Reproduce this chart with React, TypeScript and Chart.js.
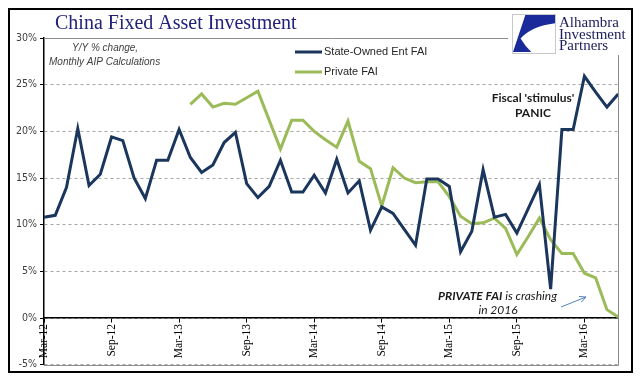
import React, { useEffect, useRef } from 'react';
import { Chart, registerables } from 'chart.js';

Chart.register(...registerables);

const months = [
  'Mar-12', 'Apr-12', 'May-12', 'Jun-12', 'Jul-12', 'Aug-12', 'Sep-12', 'Oct-12', 'Nov-12', 'Dec-12',
  'Jan-13', 'Feb-13', 'Mar-13', 'Apr-13', 'May-13', 'Jun-13', 'Jul-13', 'Aug-13', 'Sep-13', 'Oct-13', 'Nov-13', 'Dec-13',
  'Jan-14', 'Feb-14', 'Mar-14', 'Apr-14', 'May-14', 'Jun-14', 'Jul-14', 'Aug-14', 'Sep-14', 'Oct-14', 'Nov-14', 'Dec-14',
  'Jan-15', 'Feb-15', 'Mar-15', 'Apr-15', 'May-15', 'Jun-15', 'Jul-15', 'Aug-15', 'Sep-15', 'Oct-15', 'Nov-15', 'Dec-15',
  'Jan-16', 'Feb-16', 'Mar-16', 'Apr-16', 'May-16', 'Jun-16',
];

const shownTickLabels = ['Mar-12', 'Sep-12', 'Mar-13', 'Sep-13', 'Mar-14', 'Sep-14', 'Mar-15', 'Sep-15', 'Mar-16'];

const stateOwnedFAI = [
  10.8, 11.0, 14.0, 20.3, 14.2, 15.4, 19.4, 19.0, 15.0, 12.8,
  16.9, 16.9, 20.2, 17.2, 15.6, 16.4, 18.8, 19.9, 14.4, 12.9,
  14.1, 16.9, 13.5, 13.5, 15.3, 13.4, 17.0, 13.4, 14.7, 9.4,
  11.9, 11.2, 9.5, 7.8, 14.9, 14.9, 14.1, 7.1, 9.3, 15.9,
  10.8, 11.1, 9.1, 11.7, 14.3, 3.1, 20.2, 20.2, 25.9, 24.2,
  22.6, 24.0,
];

const privateFAI = [
  null, null, null, null, null, null, null, null, null, null, null, null, null,
  22.9, 24.0, 22.6, 23.0, 22.9, 23.6, 24.3, 21.2, 18.1, 21.2,
  21.2, 20.0, 19.1, 18.3, 21.1, 16.8, 16.0, 12.0, 16.1, 15.0,
  14.5, 14.6, 14.6, 13.0, 10.9, 10.1, 10.2, 10.7, 9.6, 6.8,
  8.7, 10.7, 8.4, 6.9, 6.9, 4.8, 4.3, 0.9, 0.1,
];

const seriesNames = ['State-Owned Ent FAI', 'Private FAI'];
const yMin = -5;
const yMax = 30;
const yStep = 5;

const SOE_COLOR = '#1B365D';
const PRIV_COLOR = '#9BBB59';

const overlayPlugin = {
  id: 'overlay',
  afterDraw(chart: any) {
    const { ctx, chartArea: a } = chart;
    ctx.save();

    // plot area border (gray) top, right, bottom
    ctx.strokeStyle = '#8c8c8c';
    ctx.lineWidth = 1;
    ctx.beginPath();
    ctx.moveTo(a.left, Math.round(a.top) + 0.5);
    ctx.lineTo(Math.round(a.right) + 0.5, Math.round(a.top) + 0.5);
    ctx.lineTo(Math.round(a.right) + 0.5, Math.round(a.bottom) + 0.5);
    ctx.lineTo(a.left, Math.round(a.bottom) + 0.5);
    ctx.stroke();

    // white logo area
    ctx.fillStyle = '#ffffff';
    ctx.fillRect(500, 2, 121, 45);

    // logo box
    const lx = 504, ly = 6, lw = 43, lh = 39;
    ctx.strokeStyle = '#c8c8c8';
    ctx.lineWidth = 1;
    ctx.strokeRect(lx + 0.5, ly + 0.5, lw, lh);
    ctx.fillStyle = '#1a2a9a';
    ctx.beginPath();
    ctx.moveTo(lx + 0.31 * lw, ly + 1);
    ctx.lineTo(lx + lw, ly + 1);
    ctx.lineTo(lx + lw, ly + 0.24 * lh);
    ctx.quadraticCurveTo(lx + 0.45 * lw, ly + 0.32 * lh, lx + 0.2 * lw, ly + 0.63 * lh);
    ctx.quadraticCurveTo(lx + 0.3 * lw, ly + 0.82 * lh, lx + 0.45 * lw, ly + lh - 1);
    ctx.lineTo(lx + 1, ly + lh - 1);
    ctx.closePath();
    ctx.fill();

    ctx.fillStyle = '#1c1c5c';
    ctx.font = '15px "Liberation Serif", serif';
    ctx.textAlign = 'left';
    ctx.textBaseline = 'alphabetic';
    ctx.fillText('Alhambra', 551, 19);
    ctx.fillText('Investment', 551, 30.5);
    ctx.fillText('Partners', 551, 42);

    // title
    ctx.fillStyle = '#22227a';
    ctx.font = '20px "Liberation Serif", serif';
    ctx.fillText('China Fixed Asset Investment', 47, 21);

    // outer border
    ctx.strokeStyle = '#000000';
    ctx.lineWidth = 2;
    ctx.strokeRect(1, 1, 623, 363);

    // legend
    const legend = [
      { name: seriesNames[0], color: SOE_COLOR, y: 44 },
      { name: seriesNames[1], color: PRIV_COLOR, y: 64 },
    ];
    ctx.font = '11px "Liberation Sans", sans-serif';
    ctx.textBaseline = 'middle';
    for (const item of legend) {
      ctx.strokeStyle = item.color;
      ctx.lineWidth = 3;
      ctx.beginPath();
      ctx.moveTo(287, item.y);
      ctx.lineTo(314, item.y);
      ctx.stroke();
      ctx.fillStyle = '#262626';
      ctx.fillText(item.name, 316, item.y);
    }

    // subtitle note
    ctx.fillStyle = '#404040';
    ctx.font = 'italic 10px "Liberation Sans", sans-serif';
    ctx.fillText('Y/Y % change,', 64, 40);
    ctx.fillText('Monthly AIP Calculations', 41, 54);

    // Fiscal stimulus annotation
    ctx.fillStyle = '#1a1a1a';
    ctx.font = 'bold 12px Lato, sans-serif';
    ctx.textAlign = 'center';
    ctx.fillText("Fiscal 'stimulus'", 525, 90);
    ctx.fillText('PANIC', 525, 105);

    // Private FAI annotation
    const part1 = 'PRIVATE FAI';
    const part2 = ' is crashing';
    ctx.font = 'bold italic 12px Lato, sans-serif';
    const w1 = ctx.measureText(part1).width;
    ctx.font = 'italic 12px Lato, sans-serif';
    const w2 = ctx.measureText(part2).width;
    const startX = 489.5 - (w1 + w2) / 2;
    ctx.textAlign = 'left';
    ctx.font = 'bold italic 12px Lato, sans-serif';
    ctx.fillText(part1, startX, 288);
    ctx.font = 'italic 12px Lato, sans-serif';
    ctx.fillText(part2, startX + w1, 288);
    ctx.textAlign = 'center';
    ctx.fillText('in 2016', 490, 302);

    // arrow
    const x1 = 553, y1 = 299, x2 = 578, y2 = 289;
    ctx.strokeStyle = '#4F81BD';
    ctx.lineWidth = 1;
    ctx.beginPath();
    ctx.moveTo(x1, y1);
    ctx.lineTo(x2, y2);
    const ang = Math.atan2(y2 - y1, x2 - x1);
    const hl = 7;
    ctx.moveTo(x2, y2);
    ctx.lineTo(x2 - hl * Math.cos(ang - 0.45), y2 - hl * Math.sin(ang - 0.45));
    ctx.moveTo(x2, y2);
    ctx.lineTo(x2 - hl * Math.cos(ang + 0.45), y2 - hl * Math.sin(ang + 0.45));
    ctx.stroke();

    ctx.restore();
  },
};

export default function App() {
  const canvasRef = useRef<HTMLCanvasElement | null>(null);

  useEffect(() => {
    if (!canvasRef.current) return;
    const chart = new Chart(canvasRef.current, {
      type: 'line',
      data: {
        labels: months,
        datasets: [
          {
            label: seriesNames[0],
            data: stateOwnedFAI,
            borderColor: SOE_COLOR,
            borderWidth: 3,
            pointRadius: 0,
            tension: 0,
            fill: false,
          },
          {
            label: seriesNames[1],
            data: privateFAI as any,
            borderColor: PRIV_COLOR,
            borderWidth: 3,
            pointRadius: 0,
            tension: 0,
            fill: false,
            spanGaps: false,
          },
        ],
      },
      options: {
        animation: false,
        responsive: true,
        maintainAspectRatio: false,
        layout: { padding: { left: 0, right: 10, top: 30, bottom: 7 } },
        plugins: {
          legend: { display: false },
          title: { display: false },
          tooltip: { enabled: false },
        },
        scales: {
          x: {
            type: 'category',
            position: { y: 0 } as any,
            offset: false,
            grid: {
              drawOnChartArea: false,
              drawTicks: true,
              tickLength: 4,
              tickColor: (c: any) => (shownTickLabels.includes(months[c.index]) ? '#000000' : 'rgba(0,0,0,0)'),
            },
            border: { display: true, color: '#000000', width: 1.5 },
            ticks: {
              autoSkip: false,
              maxRotation: 90,
              minRotation: 90,
              padding: 2,
              color: '#000000',
              font: { family: '"Liberation Serif", serif', size: 11.5 },
              callback: (_v: any, i: number) => (shownTickLabels.includes(months[i]) ? months[i] : ''),
            },
          },
          y: {
            min: yMin,
            max: yMax,
            afterFit: (scale: any) => {
              scale.width = 36;
            },
            grid: {
              color: '#a6a6a6',
              lineWidth: 1,
              tickLength: 4,
              tickColor: '#000000',
              tickBorderDash: [],
            },
            border: { display: true, color: '#000000', width: 1.5, dash: [3, 3] },
            ticks: {
              stepSize: yStep,
              padding: 3,
              color: '#404040',
              font: { family: '"Liberation Sans Narrow", "DejaVu Sans Condensed", sans-serif', size: 10.5 },
              callback: (v: any) => `${v}%`,
            },
          },
        },
      },
      plugins: [overlayPlugin],
    });
    return () => chart.destroy();
  }, []);

  return (
    <div style={{ width: 626, height: 366, position: 'relative' }}>
      <canvas ref={canvasRef} />
    </div>
  );
}
